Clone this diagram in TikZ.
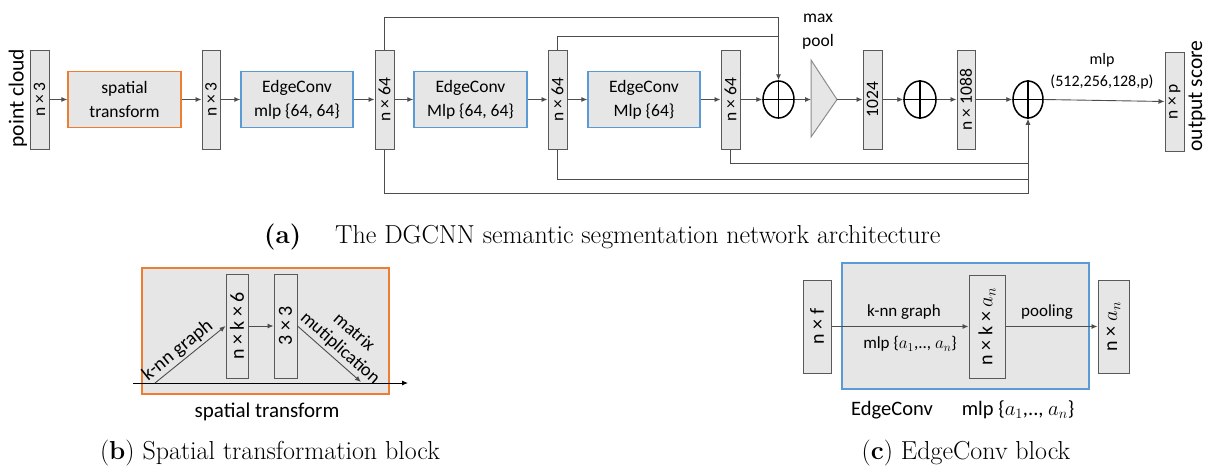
\documentclass[tikz,border=0pt]{standalone}
\usepackage{fontspec}
\newfontfamily\lab{Carlito}
\usetikzlibrary{arrows.meta,shapes.geometric}
\definecolor{bfill}{HTML}{E7E6E6}
\definecolor{bdraw}{HTML}{595959}
\definecolor{lcol}{HTML}{4D4D4D}
\definecolor{orng}{HTML}{ED7D31}
\definecolor{blu}{HTML}{5B9BD5}
\definecolor{trid}{HTML}{8C8C8C}
\newcommand\sz[2]{\fontsize{#1}{#2}\selectfont}
\begin{document}
\begin{tikzpicture}[x=1pt,y=-1pt,
  vbox/.style={draw=bdraw, fill=bfill, line width=1pt, minimum width=19pt, minimum height=99pt, inner sep=0pt, font=\lab\sz{17.5}{20}},
  hbox/.style={fill=bfill, line width=1.3pt, minimum width=113pt, minimum height=56pt, inner sep=0pt, align=center, font=\lab\sz{17.5}{24}},
  opl/.style={ellipse, draw=black, line width=1.5pt, minimum width=31pt, minimum height=37pt, inner sep=0pt},
  conn/.style={draw=lcol, line width=0.9pt},
  arr/.style={conn, -{Latex[length=6pt,width=5pt]}},
  sbox/.style={draw=bdraw, fill=bfill, line width=1pt, inner sep=0pt, font=\lab\sz{20}{24}},
  lbl/.style={font=\lab\sz{17}{21}, inner sep=1pt},
  capt/.style={font=\sz{26}{30}, inner sep=0pt}
]
\useasboundingbox (0,0) rectangle (1206,466);

% ---------------- panel (a) ----------------
\node[rotate=90, font=\lab\sz{21.5}{24}, inner sep=0pt] (pc) at (18,98) {point cloud};
\node[vbox] (p1) at (39.5,99.5) {\rotatebox{90}{n × 3}};
\node[hbox, draw=orng] (st) at (124.5,99.5) {spatial\\transform};
\node[vbox, minimum width=18pt] (p2) at (211,99.5) {\rotatebox{90}{n × 3}};
\node[hbox, draw=blu, minimum width=112pt] (ec1) at (297,99.5) {EdgeConv\\mlp \{64, 64\}};
\node[vbox] (n64a) at (384.5,99.5) {\rotatebox{90}{n × 64}};
\node[hbox, draw=blu] (ec2) at (470.5,99.5) {EdgeConv\\Mlp \{64, 64\}};
\node[vbox] (n64b) at (557.5,99.5) {\rotatebox{90}{n × 64}};
\node[hbox, draw=blu, minimum width=112pt] (ec3) at (644,99.5) {EdgeConv\\Mlp \{64\}};
\node[vbox] (n64c) at (730.5,99.5) {\rotatebox{90}{n × 64}};
\node[opl] (o1) at (778.5,99.5) {};
\draw[black, line width=1.5pt] (o1.west) -- (o1.east) (o1.north) -- (o1.south);
\coordinate (triL) at (811,99.5);
\coordinate (triR) at (837,99.5);
\fill[bfill] (811,60) -- (837,99.5) -- (811,137) -- cycle;
\draw[trid, line width=1pt] (811,60) -- (837,99.5) -- (811,137) -- cycle;
\node[align=center, font=\lab\sz{17.5}{24}, inner sep=0pt] (mp) at (818,32) {max\\pool};
\node[vbox] (b1024) at (872.5,99.5) {\rotatebox{90}{1024}};
\node[opl, minimum width=32pt] (o2) at (920,99.5) {};
\draw[black, line width=1.5pt] (o2.west) -- (o2.east) (o2.north) -- (o2.south);
\node[vbox, minimum width=18pt] (n1088) at (966,99.5) {\rotatebox{90}{n × 1088}};
\node[opl, minimum width=30pt] (o3) at (1028,99.5) {};
\draw[black, line width=1.5pt] (o3.west) -- (o3.east) (o3.north) -- (o3.south);
\node[align=center, font=\lab\sz{16}{22}, inner sep=0pt] (mlpl) at (1102,71) {mlp\\(512,256,128,p)};
\node[vbox] (out) at (1174.5,101.5) {\rotatebox{90}{n × p}};
\node[rotate=90, font=\lab\sz{21.5}{24}, inner sep=0pt] (os) at (1197,96) {output score};

\draw[arr] (p1.east) -- (st.west);
\draw[arr] (st.east) -- (p2.west);
\draw[arr] (p2.east) -- (ec1.west);
\draw[arr] (ec1.east) -- (n64a.west);
\draw[arr] (n64a.east) -- (ec2.west);
\draw[arr] (ec2.east) -- (n64b.west);
\draw[arr] (n64b.east) -- (ec3.west);
\draw[arr] (ec3.east) -- (n64c.west);
\draw[arr] (n64c.east) -- (o1.west);
\draw[arr] (o1.east) -- (triL);
\draw[arr] (triR) -- (b1024.west);
\draw[arr] (b1024.east) -- (o2.west);
\draw[arr] (o2.east) -- (n1088.west);
\draw[arr] (n1088.east) -- (o3.west);
\draw[arr] (o3.east) -- (out.west);

\coordinate (t1) at (0,17);
\coordinate (t2) at (0,36);
\coordinate (d1) at (0,163);
\coordinate (d2) at (0,179);
\coordinate (d3) at (0,193);
\draw[arr] (n64a.north) |- (o1.north |- t1) -- (o1.north);
\draw[conn] (n64b.north) |- (o1.north |- t2);
\draw[arr] (n64a.south) |- (o3.south |- d3) -- (o3.south);
\draw[conn] (n64b.south) |- (o3.south |- d2);
\draw[conn] (n64c.south) |- (o3.south |- d1);

\node[capt, anchor=west] (capa1) at (264,237) {\textbf{(a)}};
\node[capt, anchor=west] (capa2) at (335,237) {The DGCNN semantic segmentation network architecture};

% ---------------- panel (b) ----------------
\node[draw=orng, fill=bfill, line width=1.5pt, minimum width=247pt, minimum height=126pt, inner sep=0pt] (stb) at (265.5,331) {};
\node[sbox, minimum width=22pt, minimum height=104pt] (nkb) at (237,326) {\rotatebox{90}{n × k × 6}};
\node[sbox, minimum width=23pt, minimum height=104pt] (b33) at (285.5,326) {\rotatebox{90}{3 × 3}};
\coordinate (bl) at (133,383);
\coordinate (br) at (408,383);
\coordinate (ks) at (155,383);
\coordinate (me) at (361,382);
\draw[draw=black, line width=0.9pt, -{Latex[length=6pt,width=5pt]}] (bl) -- (br);
\draw[arr] (ks) -- node[sloped, above, pos=0.42, font=\lab\sz{19.5}{22}, inner sep=2pt] {k-nn graph} (nkb.west);
\draw[arr] (nkb.east) -- (b33.west);
\draw[arr] (b33.east) -- node[sloped, above, pos=0.55, align=center, font=\lab\sz{18.5}{21}, inner sep=3pt] {matrix\\mutiplication} (me);
\node[font=\lab\sz{21}{24}, inner sep=0pt] (stl) at (267,412) {spatial transform};
\node[capt] (capb) at (270,453) {(\textbf{b}) Spatial transformation block};

% ---------------- panel (c) ----------------
\node[draw=blu, fill=bfill, line width=1.5pt, minimum width=247pt, minimum height=126pt, inner sep=0pt] (ecb) at (965.5,326) {};
\node[sbox, minimum width=28pt, minimum height=93pt] (nf) at (817,326.5) {\rotatebox{90}{n × f}};
\node[sbox, minimum width=36pt, minimum height=103pt] (nka) at (987,326.5) {\rotatebox{90}{n × k × $a_n$}};
\node[sbox, minimum width=31pt, minimum height=93pt] (nan) at (1113.5,326.5) {\rotatebox{90}{n × $a_n$}};
\draw[arr] (nf.east) -- (nka.west);
\draw[arr] (nka.east) -- (nan.west);
\node[lbl] (knc) at (904,312) {k-nn graph};
\node[lbl] (mlc) at (910,344) {mlp \{$a_1$,.., $a_n$\}};
\node[lbl] (poc) at (1047,312) {pooling};
\node[font=\lab\sz{20.5}{24}, inner sep=0pt] (ecl) at (892,410) {EdgeConv};
\node[font=\lab\sz{20.5}{24}, inner sep=0pt] (mll) at (1018,410) {mlp \{$a_1$,.., $a_n$\}};
\node[capt] (capc) at (966,453) {(\textbf{c}) EdgeConv block};
\end{tikzpicture}
\end{document}
